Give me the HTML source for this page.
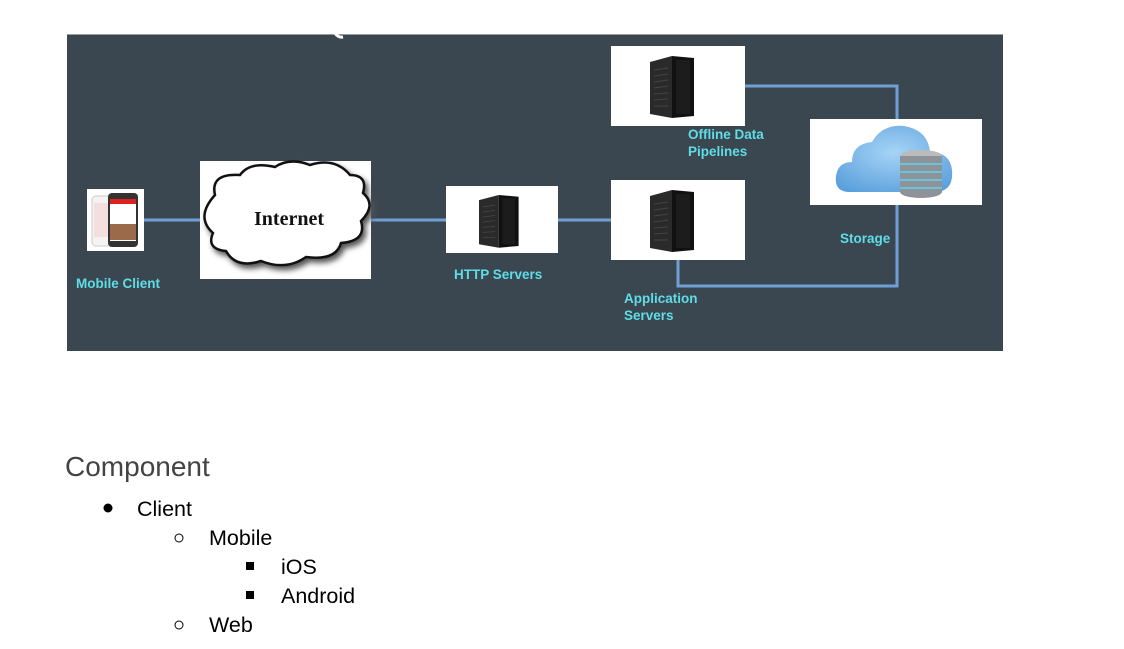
<!DOCTYPE html>
<html><head><meta charset="utf-8"><style>
html,body{margin:0;padding:0;background:#fff;width:1124px;height:649px;overflow:hidden;font-family:"Liberation Sans",Arial,sans-serif}
svg{position:absolute;left:0;top:0}
</style></head><body>
<svg width="1124" height="649" xmlns="http://www.w3.org/2000/svg">
<defs>
<g id="srv">
<polygon points="0,6 22,0 22,62 0,58" fill="#2a2a2a"/>
<polygon points="22,0 44,2 44,60 22,62" fill="#111"/>
<rect x="26" y="4" width="14" height="54" fill="#1c1c1c"/>
<g stroke="#444" stroke-width="1">
<line x1="4" y1="14" x2="18" y2="12"/><line x1="4" y1="20" x2="18" y2="18"/><line x1="4" y1="26" x2="18" y2="24"/><line x1="4" y1="32" x2="18" y2="30"/><line x1="4" y1="38" x2="18" y2="37"/><line x1="4" y1="44" x2="18" y2="43"/><line x1="4" y1="50" x2="18" y2="50"/>
</g>
</g>
<radialGradient id="cl" cx="0.5" cy="0.4" r="0.7"><stop offset="0" stop-color="#a6d4f6"/><stop offset="1" stop-color="#5a9fdc"/></radialGradient>
</defs>
<rect x="67" y="34" width="936" height="317" fill="#3b4750"/>
<rect x="67" y="34" width="936" height="1" fill="#999"/>
<path d="M333 30 q4 8 10 7" stroke="#fff" stroke-width="3" fill="none"/>
<g stroke="#6f9fd6" stroke-width="3" fill="none">
<line x1="144" y1="220" x2="200" y2="220"/>
<line x1="371" y1="220" x2="446" y2="220"/>
<line x1="558" y1="220" x2="611" y2="220"/>
<polyline points="745,86 897,86 897,119"/>
<polyline points="678,260 678,286 897,286 897,205"/>
</g>
<rect x="87" y="189" width="57" height="62" fill="#fff"/>
<rect x="92" y="196" width="26" height="50" rx="4" fill="#f3f3f3" stroke="#ccc"/>
<rect x="94" y="203" width="22" height="34" fill="#f4dede"/>
<rect x="108" y="193" width="30" height="54" rx="4" fill="#333"/>
<rect x="110" y="199" width="26" height="42" fill="#fff"/>
<rect x="110" y="199" width="26" height="5" fill="#d22"/>
<rect x="110" y="224" width="26" height="16" fill="#9a6a4a"/>
<rect x="200" y="161" width="171" height="118" fill="#fff"/>
<path d="M215 195 q-5 -22 25 -20 q10 -14 35 -8 q15 -10 35 -2 q25 -8 40 10 q18 0 13 18 q14 12 -2 28 q6 20 -20 22 q-5 18 -35 14 q-20 14 -45 4 q-25 8 -35 -10 q-20 -2 -13 -18 q-18 -16 2 -38z" fill="#fff" stroke="#111" stroke-width="2.5" filter="drop-shadow(3px 4px 3px #555)"/>
<text x="289" y="225" font-family="Liberation Serif,serif" font-size="20" font-weight="bold" text-anchor="middle" fill="#111">Internet</text>
<rect x="446" y="186" width="112" height="67" fill="#fff"/>
<use href="#srv" transform="translate(479,195) scale(0.9,0.85)"/>
<rect x="611" y="46" width="134" height="80" fill="#fff"/>
<use href="#srv" transform="translate(650,56)"/>
<rect x="611" y="180" width="134" height="80" fill="#fff"/>
<use href="#srv" transform="translate(650,190)"/>
<rect x="810" y="119" width="172" height="86" fill="#fff"/>
<path d="M850 192 q-16 0 -14 -16 q2 -14 16 -14 q0 -18 20 -20 q10 -18 32 -16 q24 4 26 26 q20 0 22 18 q2 22 -18 22z" fill="url(#cl)"/>
<ellipse cx="921" cy="156" rx="21" ry="6" fill="#bbb"/>
<rect x="900" y="156" width="42" height="36" fill="#8d9398"/>
<ellipse cx="921" cy="192" rx="21" ry="6" fill="#8d9398"/>
<g stroke="#5fd3ea" stroke-width="1.5"><line x1="900" y1="164" x2="942" y2="164"/><line x1="900" y1="172" x2="942" y2="172"/><line x1="900" y1="180" x2="942" y2="180"/><line x1="900" y1="188" x2="942" y2="188"/></g>
<g font-family="Liberation Sans,Arial,sans-serif" font-weight="bold" font-size="13.5" fill="#5fdde6">
<text x="76" y="288">Mobile Client</text>
<text x="454" y="279">HTTP Servers</text>
<text x="688" y="139">Offline Data</text>
<text x="688" y="156">Pipelines</text>
<text x="840" y="243">Storage</text>
<text x="624" y="303">Application</text>
<text x="624" y="320">Servers</text>
</g>
<g font-family="Liberation Sans,Arial,sans-serif" fill="#000" font-size="21.5">
<text x="65" y="476" font-size="28" fill="#434343">Component</text>
<circle cx="108" cy="508" r="4.5" fill="#000"/>
<text x="137" y="516">Client</text>
<circle cx="179" cy="538" r="4" fill="none" stroke="#000" stroke-width="1"/>
<text x="209" y="545">Mobile</text>
<rect x="246" y="562" width="8" height="8" fill="#000"/>
<text x="281" y="574">iOS</text>
<rect x="246" y="591" width="8" height="8" fill="#000"/>
<text x="281" y="603">Android</text>
<circle cx="179" cy="625" r="4" fill="none" stroke="#000" stroke-width="1"/>
<text x="209" y="632">Web</text>
</g>
</svg>
</body></html>
